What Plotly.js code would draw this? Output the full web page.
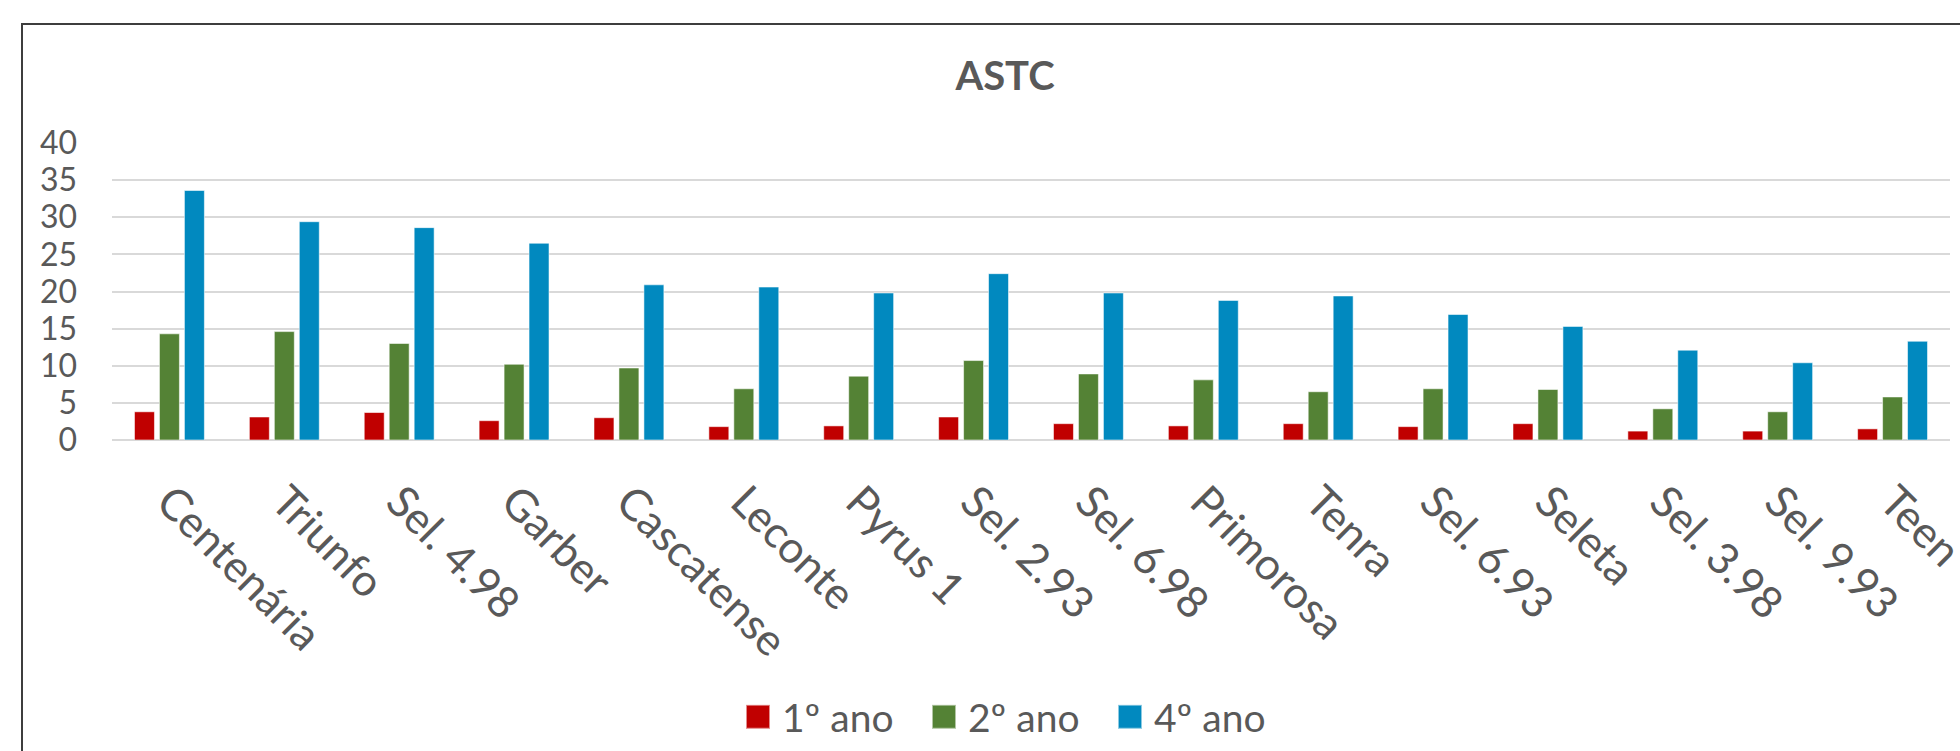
<!DOCTYPE html>
<html>
<head>
<meta charset="utf-8">
<script src="https://cdn.plot.ly/plotly-3.0.1.min.js"></script>
<style>
  html, body { margin: 0; padding: 0; background: #ffffff; overflow: hidden; }
  #chart { width: 1960px; height: 751px; position: absolute; left: 0; top: 0; }
  #frame { position: absolute; left: 21px; top: 23px; width: 3000px; height: 3000px;
           border-left: 2px solid #3d3d3d; border-top: 2px solid #3d3d3d; pointer-events: none; }
</style>
</head>
<body>
<div id="chart"></div>
<div id="frame"></div>
<script>
// Data
const categories = ["Centenária", "Triunfo", "Sel. 4.98", "Garber", "Cascatense", "Leconte",
  "Pyrus 1", "Sel. 2.93", "Sel. 6.98", "Primorosa", "Tenra", "Sel. 6.93", "Seleta",
  "Sel. 3.98", "Sel. 9.93", "Teen"];
const seriesNames = ["1º ano", "2º ano", "4º ano"];
const ano1 = [3.8, 3.1, 3.7, 2.6, 3.0, 1.8, 1.9, 3.1, 2.2, 1.9, 2.2, 1.8, 2.2, 1.2, 1.2, 1.5];
const ano2 = [14.3, 14.6, 13.0, 10.2, 9.7, 6.9, 8.6, 10.7, 8.9, 8.1, 6.5, 6.9, 6.8, 4.2, 3.8, 5.8];
const ano4 = [33.6, 29.4, 28.6, 26.5, 20.9, 20.6, 19.8, 22.4, 19.8, 18.8, 19.4, 16.9, 15.3, 12.1, 10.4, 13.3];
const yTicks = [0, 5, 10, 15, 20, 25, 30, 35, 40];
const colors = ["#C00000", "#548235", "#0189BF"];

const allValues = [ano1, ano2, ano4];
const traces = allValues.map((vals, i) => ({
  type: "bar",
  name: seriesNames[i],
  x: categories,
  y: vals,
  marker: { color: colors[i], line: { color: "rgba(255,255,255,0.55)", width: 1 } },
  hoverinfo: "x+y+name"
}));

const textColor = "#595959";
const layout = {
  width: 1960,
  height: 751,
  paper_bgcolor: "#ffffff",
  plot_bgcolor: "#ffffff",
  margin: { l: 112, r: 10, t: 143, b: 311 },
  font: { family: "Lato, 'Open Sans', sans-serif", color: textColor },
  title: {
    text: "<b>ASTC</b>",
    font: { family: "Lato, sans-serif", size: 40, color: textColor },
    xref: "container", x: 1005 / 1960, xanchor: "center",
    yref: "container", y: 1 - 76 / 751, yanchor: "middle"
  },
  barmode: "group",
  bargap: 0.348,
  bargroupgap: 0.2,
  showlegend: true,
  legend: {
    orientation: "h",
    xref: "container", x: 1021 / 1960, xanchor: "center",
    yref: "container", y: 1 - 717 / 751, yanchor: "middle",
    font: { size: 39, color: textColor },
    entrywidth: 141,
    entrywidthmode: "pixels",
    itemclick: false, itemdoubleclick: false,
    traceorder: "normal"
  },
  xaxis: {
    type: "category",
    tickangle: 45,
    tickfont: { size: 44, color: textColor },
    showgrid: false,
    showline: false,
    zeroline: false,
    ticks: "",
    ticklabelstandoff: 26,
    fixedrange: true
  },
  yaxis: {
    range: [0, 40],
    tickvals: yTicks,
    ticktext: yTicks.map(String),
    tickfont: { size: 32, color: textColor },
    showgrid: true,
    gridcolor: "#D9D9D9",
    gridwidth: 2,
    zeroline: true,
    zerolinecolor: "#D9D9D9",
    zerolinewidth: 2,
    showline: false,
    ticks: "",
    ticklabelstandoff: 34,
    fixedrange: true
  }
};

Plotly.newPlot("chart", traces, layout, { displayModeBar: false }).then(() => {
  document.querySelectorAll(".legendpoints path").forEach(p => {
    const t = p.getAttribute("transform") || "";
    p.setAttribute("transform", t + " translate(-4,0) scale(2)");
  });
});
</script>
</body>
</html>
